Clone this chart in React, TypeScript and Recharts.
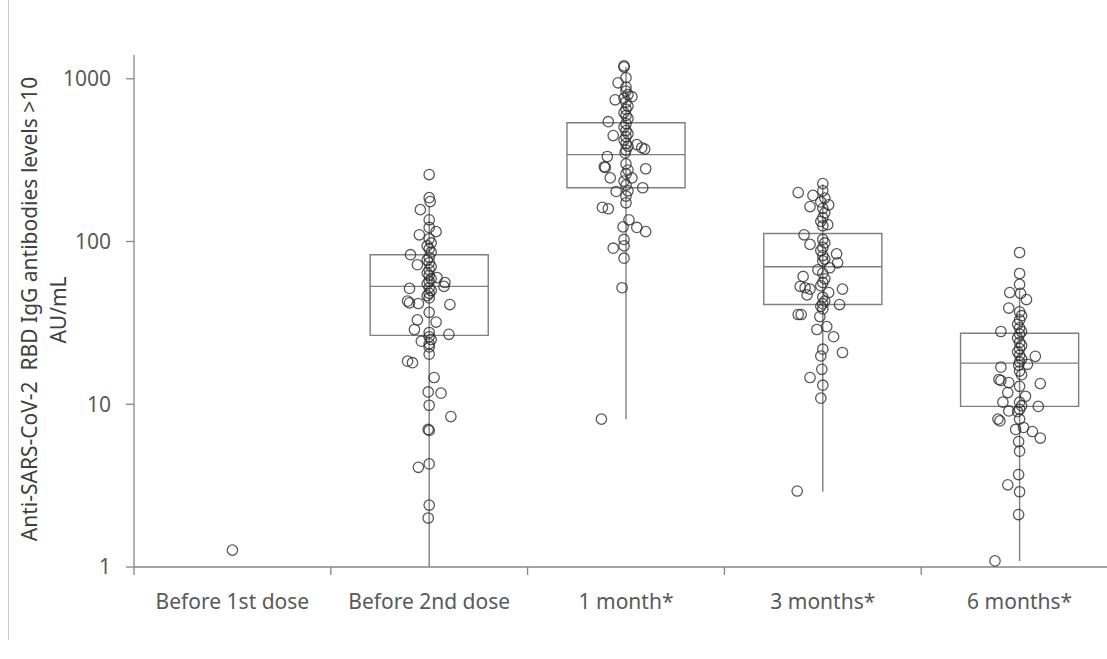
import React from 'react';
import { ScatterChart, Scatter, XAxis, YAxis, ReferenceArea, ReferenceLine } from 'recharts';

const categories = ['Before 1st dose', 'Before 2nd dose', '1 month*', '3 months*', '6 months*'];
const yTicks = [1, 10, 100, 1000];

// box plot stats per category (null = no box)
const q1 = [null, 26.5, 214, 41, 9.7];
const median = [null, 53, 342, 70, 17.9];
const q3 = [null, 83, 537, 112, 27.3];
const whiskerLow = [null, 1, 8.1, 2.9, 1.09];
const whiskerHigh = [null, 165, 1180, 225, 50];

// [jitter (category units), AU/mL]
const before1st = [[0, 1.27]];
const before2nd = [
  [0, 258], [0, 186], [0.005, 176], [-0.045, 157], [0, 136], [0, 122], [0.035, 115], [-0.05, 110],
  [0, 104], [0.01, 98], [-0.01, 94], [0, 90], [0.01, 86], [0, 80], [-0.01, 77], [0, 74], [0.01, 70], [0, 67],
  [-0.01, 64], [0, 62], [0.01, 59], [0, 57], [-0.01, 55], [0, 52], [0.01, 50], [0, 48], [-0.01, 46.5], [0, 45],
  [-0.095, 83], [-0.06, 72], [0.04, 60], [0.08, 56], [0.075, 53], [-0.1, 51.5], [-0.11, 43], [-0.1, 42],
  [-0.055, 41.6], [0.105, 41], [0, 36.7], [-0.06, 33], [0.035, 32], [-0.075, 28.8], [0, 27.6], [0.1, 26.9],
  [0, 26], [0.01, 25], [-0.04, 24.4], [0, 23.5], [0, 22.5], [-0.11, 18.4], [-0.085, 18], [0, 20.3],
  [0.025, 14.6], [-0.005, 11.9], [0.06, 11.7], [0, 9.86], [0.11, 8.4], [-0.005, 7.0], [0, 6.9],
  [-0.055, 4.1], [0, 4.3], [0, 2.4], [-0.005, 2.0],
];
const month1 = [
  [-0.01, 1200], [-0.01, 1180], [0, 1015], [-0.04, 945], [0, 890], [-0.055, 743], [0.03, 776],
  [0, 840], [0.01, 800], [-0.01, 760], [0, 720], [0.01, 680], [0, 650], [-0.01, 620], [0, 595], [0.01, 570],
  [0, 530], [-0.01, 505], [0, 480], [0.01, 460], [0, 440], [-0.01, 420], [0, 400], [0.01, 385], [0, 365], [-0.005, 350],
  [-0.09, 545], [-0.065, 448], [0.055, 394], [0.08, 377], [0.095, 370], [-0.095, 333], [-0.11, 288], [-0.105, 285],
  [-0.08, 246], [0.1, 280], [0.03, 246],
  [0, 300], [0.01, 275], [0, 260], [-0.01, 235], [0, 222], [0.01, 205], [0, 190],
  [-0.05, 203], [0.085, 214], [0, 173], [-0.12, 162], [-0.09, 159], [0.015, 136], [-0.015, 123], [0.055, 122],
  [0.1, 115], [-0.01, 103], [-0.065, 91], [-0.01, 94], [-0.01, 79], [-0.02, 52], [-0.125, 8.1],
];
const months3 = [
  [0, 227], [-0.125, 200], [-0.05, 192], [0, 205], [0.01, 185], [-0.01, 175], [0, 160], [0.01, 150], [0, 140],
  [-0.01, 133], [0, 125], [-0.065, 164], [0.03, 168], [0.025, 127], [-0.095, 110], [-0.065, 96],
  [0, 103], [0.01, 98], [0, 92], [-0.01, 88], [0, 82], [0.01, 78], [0, 76],
  [0.07, 84], [0.075, 74], [0.035, 69], [-0.025, 67], [-0.1, 61],
  [0, 64], [0.01, 59], [0, 56], [-0.01, 53.5],
  [-0.115, 53], [-0.09, 52], [-0.065, 51], [0.1, 51], [0.03, 48.6], [-0.08, 47],
  [0, 45.5], [0.01, 43], [0, 41.5], [-0.01, 40], [0, 38.5],
  [0.085, 41], [-0.11, 35.6], [-0.125, 35.6], [-0.015, 34.6], [-0.03, 28.8], [0.02, 30], [0.055, 26], [0, 21.8],
  [0.1, 20.8], [-0.01, 19.8], [-0.005, 16.4], [-0.065, 14.6], [0, 13.1], [-0.01, 10.9], [-0.13, 2.93],
];
const months6 = [
  [0, 85.6], [0, 63.6], [0, 54.5], [-0.05, 48.6], [0.005, 48], [0.035, 44], [-0.055, 39],
  [0, 37], [0.01, 35], [0, 33], [-0.01, 31], [0, 29.5], [0.01, 28], [0, 27], [-0.01, 25.5], [0, 24], [0.01, 23],
  [0, 22], [-0.01, 21], [0, 20], [0.01, 19], [0, 18.2], [-0.005, 17.4], [0, 16], [0.01, 15.2],
  [-0.095, 28], [0.08, 19.7], [0.04, 17.6], [-0.095, 16.9], [-0.105, 14.2], [-0.095, 14], [-0.055, 13.6],
  [0.105, 13.4], [0, 12.9], [-0.06, 11.8], [0.03, 11.2], [-0.085, 10.3], [0.095, 9.7],
  [0, 10.3], [0.01, 9.8], [0, 9.3], [-0.01, 9.0],
  [-0.055, 9.1], [-0.11, 8.1], [-0.1, 7.9], [0, 8.1], [-0.02, 7.0], [0.02, 7.2], [0.065, 6.8], [0.105, 6.2],
  [-0.005, 5.9], [0, 5.15], [-0.005, 3.7], [-0.06, 3.2], [0, 2.9], [-0.005, 2.1], [-0.125, 1.09],
];

const groups = [before1st, before2nd, month1, months3, months6];
const points = groups.flatMap((g, i) => g.map(([j, v]) => ({ x: i + j, y: v })));

const xTicks = [-0.5, 0, 0.5, 1, 1.5, 2, 2.5, 3, 3.5, 4, 4.5];
const FONT = '"Noto Sans", sans-serif';
const AXIS = '#868686';
const BOX = '#7f7f7f';

const XTick = (props: any) => {
  const { x, y, payload } = props;
  const v = payload.value;
  if (Number.isInteger(v)) {
    return (
      <text x={x} y={y + 42} textAnchor="middle" fill="#595959" fontSize={21} fontFamily={FONT}>
        {categories[v]}
      </text>
    );
  }
  return <line x1={x} x2={x} y1={y} y2={y + 8} stroke={AXIS} strokeWidth={1.3} />;
};

const Ring = (props: any) => (
  <circle cx={props.cx} cy={props.cy} r={5.2} fill="none" stroke="#2b2b2b" strokeOpacity={0.78} strokeWidth={1.3} />
);

const AxisTitle = () => (
  <g fill="#404040" fontSize={21} fontFamily={FONT}>
    <text transform="translate(29,309) rotate(-90)" textAnchor="middle" dominantBaseline="central" style={{ whiteSpace: 'pre' }}>
      {'Anti-SARS-CoV-2  RBD IgG antibodies levels >10'}
    </text>
    <text transform="translate(58,310) rotate(-90)" textAnchor="middle" dominantBaseline="central">
      AU/mL
    </text>
  </g>
);

export default function App() {
  return (
    <div style={{ position: 'absolute', left: 0, top: 0, width: 1107, height: 659, overflow: 'hidden', background: '#fff' }}>
      <div style={{ position: 'absolute', left: 8, top: 0, width: 1, height: 640, background: '#c8c8c8' }} />
      <div style={{ position: 'absolute', left: 0, top: 0 }}>
        <ScatterChart width={1130} height={659} margin={{ top: 55, right: 12, left: 0, bottom: 52 }}>
          <XAxis
            type="number"
            dataKey="x"
            domain={[-0.5, 4.5]}
            ticks={xTicks}
            interval={0}
            tick={<XTick />}
            tickLine={false}
            tickSize={0}
            tickMargin={0}
            height={40}
            stroke={AXIS}
            strokeWidth={1.3}
          />
          <YAxis
            type="number"
            dataKey="y"
            scale="log"
            domain={[1, 1400]}
            allowDataOverflow
            ticks={yTicks}
            interval={0}
            width={134}
            tickSize={8}
            tickMargin={15}
            stroke={AXIS}
            strokeWidth={1.3}
            tick={{ fill: '#595959', fontSize: 21, fontFamily: FONT }}
            label={{ content: () => <AxisTitle /> }}
          />
          {categories.map((c, i) =>
            whiskerLow[i] == null ? null : (
              <ReferenceLine
                key={'w' + c}
                segment={[{ x: i, y: whiskerLow[i] as number }, { x: i, y: whiskerHigh[i] as number }]}
                stroke={BOX}
                strokeWidth={1.4}
                ifOverflow="visible"
              />
            )
          )}
          {categories.map((c, i) =>
            q1[i] == null ? null : (
              <ReferenceArea
                key={'b' + c}
                x1={i - 0.3}
                x2={i + 0.3}
                y1={q1[i] as number}
                y2={q3[i] as number}
                fill="none"
                fillOpacity={0}
                stroke={BOX}
                strokeWidth={1.4}
              />
            )
          )}
          {categories.map((c, i) =>
            median[i] == null ? null : (
              <ReferenceLine
                key={'m' + c}
                segment={[{ x: i - 0.3, y: median[i] as number }, { x: i + 0.3, y: median[i] as number }]}
                stroke={BOX}
                strokeWidth={1.4}
              />
            )
          )}
          <Scatter data={points} shape={<Ring />} isAnimationActive={false} />
        </ScatterChart>
      </div>
    </div>
  );
}
